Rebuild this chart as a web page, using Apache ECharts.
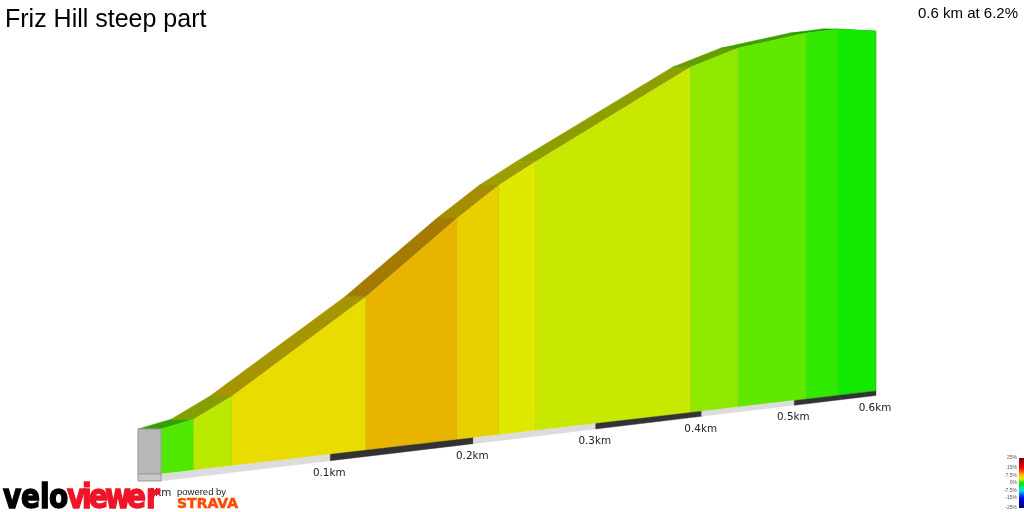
<!DOCTYPE html>
<html>
<head>
<meta charset="utf-8">
<style>html,body{margin:0;padding:0;background:#fff}#c{width:1024px;height:512px}</style>
<script src="https://cdn.jsdelivr.net/npm/echarts@6/dist/echarts.min.js"></script>
</head>
<body>
<div id="c"></div>
<script>
// Segment boundaries along the climb (km) and elevation gained (m)
const distanceKm = [0, 0.018, 0.040, 0.1235, 0.188, 0.220, 0.249, 0.389, 0.438, 0.514, 0.552, 0.6];
const elevationM = [0, 0.49, 1.97, 9.13, 15.57, 18.49, 20.68, 30.73, 33.21, 35.78, 36.75, 37.2];
const segmentColors = ['#4ee800','#bbe800','#e8dc00','#e8b400','#e8d000','#e0e800','#c8e800','#8ee800','#60e800','#30e800','#12e800'];
const kmTicks = [0, 0.1, 0.2, 0.3, 0.4, 0.5, 0.6];
const tickLabels = ['0km','0.1km','0.2km','0.3km','0.4km','0.5km','0.6km'];
const stripColors = ['#dcdcdc','#333333','#dcdcdc','#333333','#dcdcdc','#333333'];
const legendLabels = ['25%','15%','7.5%','0%','-7.5%','-15%','-25%'];
const legendValues = [25, 15, 7.5, 0, -7.5, -15, -25];

// Perspective view parameters
const totalKm = 0.6, persp = 0.551, depthPersp = 0.43, baseM = 3.26, plinthM = 0.507, riseM = 6.014, depth = 0.03217;

function proj(api, km, elev, back) {
  const u = km / totalKm, w = 1 + persp * u;
  const ux = u * (1 + persp) / w;
  const val = (elev + baseM) / w + riseM * ux;
  return api.coord([ux - (back ? depth / (1 + depthPersp * u) : 0), val]);
}
const poly = (points, fill, stroke) => ({
  type: 'polygon', shape: { points },
  style: { fill, stroke: stroke || fill, lineWidth: stroke ? 1 : 0.4 }
});
function darken(hex) {
  const n = parseInt(hex.slice(1), 16);
  return 'rgb(' + [(n >> 16 & 255) * 0.71, (n >> 8 & 255) * 0.68, (n & 255) * 0.7].map(Math.round).join(',') + ')';
}

const segments = segmentColors.map((c, i) => [distanceKm[i], distanceKm[i + 1], elevationM[i], elevationM[i + 1], i]);
const strips = stripColors.map((c, i) => [kmTicks[i], kmTicks[i + 1], i]);
const ticks = kmTicks.map((k, i) => [k, i]);

function letters(str, xs, color) {
  return str.split('').map((ch, i) => ({
    type: 'text', z: 100, x: xs[i], y: 499, scaleX: 0.85,
    style: { text: ch, font: 'bold 33px "DejaVu Sans"', fill: color, stroke: color, lineWidth: 1.5, verticalAlign: 'middle' }
  }));
}

const option = {
  animation: false,
  backgroundColor: '#fff',
  title: [
    { text: 'Friz Hill steep part', left: 5, top: 8, textStyle: { fontFamily: 'Liberation Sans', fontSize: 25, fontWeight: 'normal', color: '#000' }, padding: 0 },
    { text: '0.6 km at 6.2%', right: 6, top: 6, textStyle: { fontFamily: 'Liberation Sans', fontSize: 15, fontWeight: 'normal', color: '#000' }, padding: 0 }
  ],
  grid: { left: 161, top: 0, width: 715, height: 474 },
  xAxis: { type: 'value', min: 0, max: 1, show: false },
  yAxis: { type: 'value', min: 0, max: 34.35, show: false },
  series: [
    { // road surface
      type: 'custom', silent: true, clip: false, z: 2, data: segments,
      renderItem(p, api) {
        const [d0, d1, e0, e1, i] = [0,1,2,3,4].map(k => api.value(k));
        return poly([proj(api,d0,e0), proj(api,d1,e1), proj(api,d1,e1,true), proj(api,d0,e0,true)], darken(segmentColors[i]));
      }
    },
    { // coloured wall
      type: 'custom', silent: true, clip: false, z: 3, data: segments,
      renderItem(p, api) {
        const [d0, d1, e0, e1, i] = [0,1,2,3,4].map(k => api.value(k));
        const a = proj(api,d0,e0), b = proj(api,d1,e1), c = proj(api,d1,-baseM), d = proj(api,d0,-baseM);
        return { type: 'group', children: [
          poly([a,b,c,d], segmentColors[i]),
          { type: 'line', shape: { x1: b[0], y1: b[1], x2: c[0], y2: c[1] }, style: { stroke: 'rgba(110,110,0,0.3)', lineWidth: 1 } }
        ]};
      }
    },
    { // distance strip
      type: 'custom', silent: true, clip: false, z: 3, data: strips,
      renderItem(p, api) {
        const d0 = api.value(0), d1 = api.value(1), i = api.value(2);
        const low = -baseM - plinthM;
        return poly([proj(api,d0,-baseM), proj(api,d1,-baseM), proj(api,d1,low), proj(api,d0,low)], stripColors[i]);
      }
    },
    { // grey start block
      type: 'custom', silent: true, clip: false, z: 4, data: [[0, elevationM[0]]],
      renderItem(p, api) {
        const d = api.value(0), e = api.value(1), low = -baseM - plinthM;
        return { type: 'group', children: [
          poly([proj(api,d,e,true), proj(api,d,e), proj(api,d,-baseM), proj(api,d,-baseM,true)], '#b8b8b8', '#9a9a9a'),
          poly([proj(api,d,-baseM,true), proj(api,d,-baseM), proj(api,d,low), proj(api,d,low,true)], '#c8c8c8', '#9a9a9a')
        ]};
      }
    },
    { // distance labels
      type: 'custom', silent: true, clip: false, z: 5, data: ticks,
      renderItem(p, api) {
        const pt = proj(api, api.value(0), -baseM - plinthM);
        return { type: 'text', style: { text: tickLabels[api.value(1)], x: pt[0] - 1, y: pt[1] + 12.5, align: 'center', verticalAlign: 'middle',
          fill: '#222', font: '10.4px "DejaVu Sans"' } };
      }
    }
  ],
  graphic: []
    .concat(letters('velo', [3, 21, 40, 49], '#000'))
    .concat(letters('viewer', [67, 82, 89, 105, 127, 146], '#f01428'))
    .concat([
    { type: 'text', z: 101, x: 177, y: 492, style: { text: 'powered by', font: '9.5px "Liberation Sans"', fill: '#222', verticalAlign: 'middle' } },
    { type: 'text', z: 101, x: 177, y: 504, style: { text: 'STRAVA', font: 'bold 14px "DejaVu Sans"', fill: '#fc4c02', stroke: '#fc4c02', lineWidth: 0.5, verticalAlign: 'middle' } },
    { type: 'rect', z: 100, shape: { x: 1019, y: 458, width: 5, height: 50 }, style: { fill: { type: 'linear', x: 0, y: 0, x2: 0, y2: 1, colorStops: [
      { offset: 0, color: '#7a0000' }, { offset: 0.2, color: '#ff0000' }, { offset: 0.35, color: '#ffc000' }, { offset: 0.42, color: '#e8e800' },
      { offset: 0.5, color: '#00e800' }, { offset: 0.65, color: '#00e0e0' }, { offset: 0.8, color: '#0000ff' }, { offset: 1, color: '#00006a' } ] } } }
  ]).concat(legendLabels.map((t, i) => ({
    type: 'text', z: 100, x: 1017, y: 483 - legendValues[i],
    style: { text: t, font: '5px "Liberation Sans"', fill: '#555', align: 'right', verticalAlign: 'middle' }
  })))
};
echarts.init(document.getElementById('c'), null, { renderer: 'canvas' }).setOption(option);
</script>
</body>
</html>
